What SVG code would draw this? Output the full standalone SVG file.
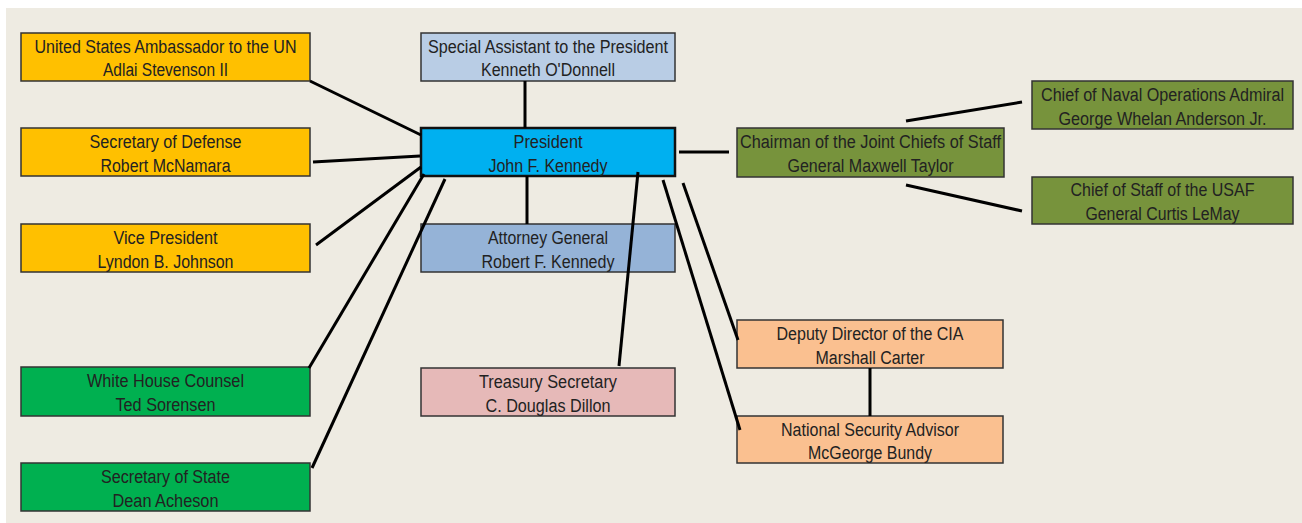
<svg xmlns="http://www.w3.org/2000/svg" width="1302" height="523" viewBox="0 0 1302 523">
<style>
.box{stroke:#333;stroke-width:1.5}
.pres{stroke:#111;stroke-width:2.5}
text{font-family:"Liberation Sans",Arial,sans-serif;font-size:18px;fill:#222;text-anchor:middle}
.c line{stroke:#000;stroke-width:3;stroke-linecap:butt}
</style>
<rect x="0" y="0" width="1302" height="523" fill="#ffffff"/>
<rect x="6" y="8" width="1296" height="515" fill="#eeebe2"/>
<g id="un"><rect class="box" x="21" y="33" width="289" height="48" fill="#ffc000"/>
<text x="165.5" y="53" textLength="262" lengthAdjust="spacingAndGlyphs">United States Ambassador to the UN</text>
<text x="165.5" y="76" textLength="125" lengthAdjust="spacingAndGlyphs">Adlai Stevenson II</text></g>
<g id="defense"><rect class="box" x="21" y="128" width="289" height="48" fill="#ffc000"/>
<text x="165.5" y="148" textLength="152" lengthAdjust="spacingAndGlyphs">Secretary of Defense</text>
<text x="165.5" y="171.5" textLength="130" lengthAdjust="spacingAndGlyphs">Robert McNamara</text></g>
<g id="vp"><rect class="box" x="21" y="224" width="289" height="48" fill="#ffc000"/>
<text x="165.5" y="244" textLength="104" lengthAdjust="spacingAndGlyphs">Vice President</text>
<text x="165.5" y="267.5" textLength="136" lengthAdjust="spacingAndGlyphs">Lyndon B. Johnson</text></g>
<g id="counsel"><rect class="box" x="21" y="367" width="289" height="49" fill="#00b050"/>
<text x="165.5" y="387" textLength="157" lengthAdjust="spacingAndGlyphs">White House Counsel</text>
<text x="165.5" y="410.5" textLength="100" lengthAdjust="spacingAndGlyphs">Ted Sorensen</text></g>
<g id="state"><rect class="box" x="21" y="463" width="289" height="48" fill="#00b050"/>
<text x="165.5" y="483" textLength="129" lengthAdjust="spacingAndGlyphs">Secretary of State</text>
<text x="165.5" y="506.5" textLength="106" lengthAdjust="spacingAndGlyphs">Dean Acheson</text></g>
<g id="special"><rect class="box" x="421" y="33" width="254" height="48" fill="#b9cde5"/>
<text x="548" y="53" textLength="240" lengthAdjust="spacingAndGlyphs">Special Assistant to the President</text>
<text x="548" y="76" textLength="134" lengthAdjust="spacingAndGlyphs">Kenneth O'Donnell</text></g>
<g id="president"><rect class="pres" x="421" y="128" width="254" height="48" fill="#00b0f0"/>
<text x="548" y="148" textLength="69" lengthAdjust="spacingAndGlyphs">President</text>
<text x="548" y="171.5" textLength="119" lengthAdjust="spacingAndGlyphs">John F. Kennedy</text></g>
<g id="attorney"><rect class="box" x="421" y="224" width="254" height="48" fill="#95b3d7"/>
<text x="548" y="244" textLength="120" lengthAdjust="spacingAndGlyphs">Attorney General</text>
<text x="548" y="267.5" textLength="133" lengthAdjust="spacingAndGlyphs">Robert F. Kennedy</text></g>
<g id="treasury"><rect class="box" x="421" y="368" width="254" height="48" fill="#e6b9b8"/>
<text x="548" y="388" textLength="138" lengthAdjust="spacingAndGlyphs">Treasury Secretary</text>
<text x="548" y="411.5" textLength="125" lengthAdjust="spacingAndGlyphs">C. Douglas Dillon</text></g>
<g id="chairman"><rect class="box" x="737" y="128" width="267" height="49" fill="#77933c"/>
<text x="870.5" y="148" textLength="261" lengthAdjust="spacingAndGlyphs">Chairman of the Joint Chiefs of Staff</text>
<text x="870.5" y="171.5" textLength="166" lengthAdjust="spacingAndGlyphs">General Maxwell Taylor</text></g>
<g id="naval"><rect class="box" x="1032" y="81" width="261" height="48" fill="#77933c"/>
<text x="1162.5" y="101" textLength="243" lengthAdjust="spacingAndGlyphs">Chief of Naval Operations Admiral</text>
<text x="1162.5" y="124.5" textLength="208" lengthAdjust="spacingAndGlyphs">George Whelan Anderson Jr.</text></g>
<g id="usaf"><rect class="box" x="1032" y="177" width="261" height="47" fill="#77933c"/>
<text x="1162.5" y="196" textLength="184" lengthAdjust="spacingAndGlyphs">Chief of Staff of the USAF</text>
<text x="1162.5" y="219.5" textLength="154" lengthAdjust="spacingAndGlyphs">General Curtis LeMay</text></g>
<g id="cia"><rect class="box" x="737" y="320" width="266" height="48" fill="#fac090"/>
<text x="870" y="340" textLength="187" lengthAdjust="spacingAndGlyphs">Deputy Director of the CIA</text>
<text x="870" y="363.5" textLength="109" lengthAdjust="spacingAndGlyphs">Marshall Carter</text></g>
<g id="nsa"><rect class="box" x="737" y="416" width="266" height="47" fill="#fac090"/>
<text x="870" y="436" textLength="178" lengthAdjust="spacingAndGlyphs">National Security Advisor</text>
<text x="870" y="459" textLength="124" lengthAdjust="spacingAndGlyphs">McGeorge Bundy</text></g>
<g class="c" id="connectors">
<line x1="310" y1="81" x2="421" y2="135"/>
<line x1="313" y1="162" x2="420" y2="156"/>
<line x1="316" y1="245" x2="421" y2="167"/>
<line x1="424" y1="174" x2="309" y2="368"/>
<line x1="445" y1="179" x2="312" y2="468"/>
<line x1="525" y1="81" x2="525" y2="128"/>
<line x1="527" y1="176" x2="527" y2="224"/>
<line x1="638" y1="172" x2="619" y2="366"/>
<line x1="663" y1="180" x2="740" y2="430"/>
<line x1="683" y1="183" x2="738" y2="340"/>
<line x1="679" y1="152" x2="729" y2="152"/>
<line x1="906" y1="121" x2="1022" y2="102"/>
<line x1="906" y1="185" x2="1022" y2="211"/>
<line x1="870" y1="368" x2="870" y2="416"/>
</g>
</svg>
